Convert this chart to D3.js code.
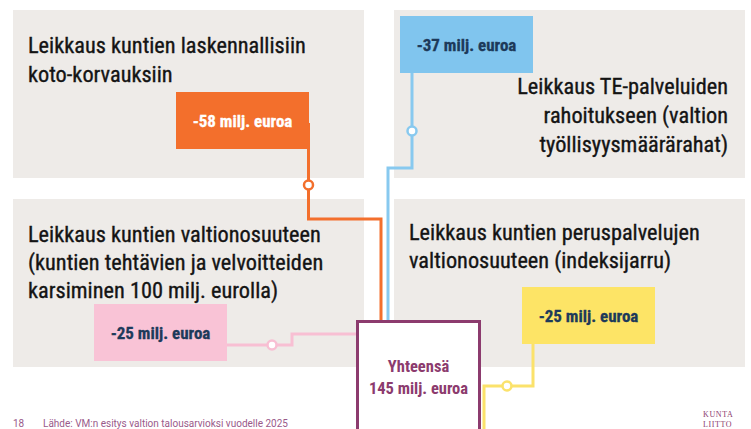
<!DOCTYPE html>
<html>
<head>
<meta charset="utf-8">
<script src="https://cdn.jsdelivr.net/npm/d3@7"></script>
<style>
  html, body { margin: 0; padding: 0; background: #fff; }
  svg { display: block; }
</style>
</head>
<body>
<div id="chart"></div>
<script>
// Leikkausten kohteet (otsikkorivit) ja summat
const titles = [
  ["Leikkaus kuntien laskennallisiin", "koto-korvauksiin"],
  ["Leikkaus TE-palveluiden", "rahoitukseen (valtion", "työllisyysmäärärahat)"],
  ["Leikkaus kuntien valtionosuuteen", "(kuntien tehtävien ja velvoitteiden", "karsiminen 100 milj. eurolla)"],
  ["Leikkaus kuntien peruspalvelujen", "valtionosuuteen (indeksijarru)"]
];
const amounts = [-58, -37, -25, -25];
const totalLabel = "Yhteensä";
const total = 145;
const unit = "milj. euroa";
const sourceText = "Lähde: VM:n esitys valtion talousarvioksi  vuodelle 2025";
const pageNo = "18";
const logoLines = ["KUNTA", "LIITTO"];

// Värit
const boxColors = ["#f36f2c", "#80c5ee", "#f9c3d6", "#fde466"];
const lineColors = ["#f36f2c", "#88c9ef", "#f8bfd3", "#fbe26b"];
const labelColors = ["#ffffff", "#1d3a5a", "#1d3a5a", "#1d3a5a"];
const purple = "#8c3b6e";
const panelFill = "#eeebe8";

const width = 751;
const height = 429;
const font = "'Roboto Condensed', 'Liberation Sans Narrow', 'DejaVu Sans Condensed', Roboto, sans-serif";

const svg = d3.select("#chart")
  .append("svg")
  .attr("width", width)
  .attr("height", height)
  .style("background", "white");

// Paneelien ruudukko
const col = d3.scaleBand().domain([0, 1]).range([13, 745]).paddingInner(30 / 381);
const row = d3.scaleBand().domain([0, 1]).range([10, 367]).paddingInner(21 / 189);

// paneelin sijainti: [sarake, rivi], otsikon tasaus ja ensimmäisen rivin y
const panels = [
  { c: 0, r: 0, anchor: "start", tx: 15, ty: 43, lh: 29 },
  { c: 1, r: 0, anchor: "end", tx: 334, ty: 84, lh: 29 },
  { c: 0, r: 1, anchor: "start", tx: 15, ty: 43, lh: 28 },
  { c: 1, r: 1, anchor: "start", tx: 15, ty: 41, lh: 28 }
];

// summalaatikoiden paikat
const boxW = 133, boxH = 57;
const boxes = [
  { x: 176, y: 92 },
  { x: 400, y: 16 },
  { x: 94, y: 304 },
  { x: 522, y: 287 }
];

// Paneelit
svg.selectAll("rect.panel")
  .data(panels)
  .enter()
  .append("rect")
  .attr("class", "panel")
  .attr("x", d => col(d.c))
  .attr("y", d => row(d.r))
  .attr("width", col.bandwidth())
  .attr("height", row.bandwidth())
  .attr("fill", panelFill);

// Otsikot
panels.forEach((p, i) => {
  const t = svg.append("text")
    .attr("x", col(p.c) + p.tx)
    .attr("y", row(p.r) + p.ty)
    .attr("text-anchor", p.anchor)
    .style("font-family", font)
    .style("font-size", "22.3px")
    .style("fill", "#141414")
    .style("stroke", "#141414")
    .style("stroke-width", 0.35);
  titles[i].forEach((line, j) => {
    t.append("tspan")
      .attr("x", col(p.c) + p.tx)
      .attr("y", row(p.r) + p.ty + j * p.lh)
      .text(line);
  });
});

// Yhteensä-laatikko
const tot = { x: 357.5, y: 321.5, w: 122 };

// Yhdysviivat (väliviivat ja ympyrät)
const connectors = [
  { pts: [[308.5, 123], [308.5, 219], [381, 219], [381, 320]], circle: [308.5, 185] },
  { pts: [[412, 73], [412, 168], [388, 168], [388, 320]], circle: [412, 131] },
  { pts: [[227, 345], [292, 345], [292, 334], [357, 334]], circle: [272, 345] },
  { pts: [[533, 343], [533, 386], [484, 386], [484, 432]], circle: [507, 386] }
];

const lineGen = d3.line().curve(d3.curveLinear);

svg.selectAll("path.connector")
  .data(connectors)
  .enter()
  .append("path")
  .attr("class", "connector")
  .attr("d", d => lineGen(d.pts))
  .attr("fill", "none")
  .attr("stroke", (d, i) => lineColors[i])
  .attr("stroke-width", 3);

// Summalaatikot
svg.selectAll("rect.amount")
  .data(amounts)
  .enter()
  .append("rect")
  .attr("class", "amount")
  .attr("x", (d, i) => boxes[i].x)
  .attr("y", (d, i) => boxes[i].y)
  .attr("width", boxW)
  .attr("height", boxH)
  .attr("fill", (d, i) => boxColors[i]);

svg.selectAll("text.amount")
  .data(amounts)
  .enter()
  .append("text")
  .attr("class", "amount")
  .attr("x", (d, i) => boxes[i].x + boxW / 2)
  .attr("y", (d, i) => boxes[i].y + boxH / 2 + 6)
  .attr("text-anchor", "middle")
  .style("font-family", font)
  .style("font-size", "17px")
  .style("font-weight", "bold")
  .style("fill", (d, i) => labelColors[i])
  .style("stroke", (d, i) => labelColors[i])
  .style("stroke-width", 0.3)
  .text(d => `${d} ${unit}`);

svg.selectAll("circle.node")
  .data(connectors)
  .enter()
  .append("circle")
  .attr("class", "node")
  .attr("cx", d => d.circle[0])
  .attr("cy", d => d.circle[1])
  .attr("r", 4.5)
  .attr("fill", "white")
  .attr("stroke", (d, i) => lineColors[i])
  .attr("stroke-width", 2.5);

// Yhteensä
svg.append("rect")
  .attr("x", tot.x)
  .attr("y", tot.y)
  .attr("width", tot.w)
  .attr("height", 140)
  .attr("fill", "white")
  .attr("stroke", purple)
  .attr("stroke-width", 3);

svg.append("text")
  .attr("x", tot.x + tot.w / 2)
  .attr("y", 372)
  .attr("text-anchor", "middle")
  .style("font-family", font)
  .style("font-size", "16.5px")
  .style("font-weight", "bold")
  .style("fill", purple)
  .text(totalLabel);

svg.append("text")
  .attr("x", tot.x + tot.w / 2)
  .attr("y", 394)
  .attr("text-anchor", "middle")
  .style("font-family", font)
  .style("font-size", "16.5px")
  .style("font-weight", "bold")
  .style("fill", purple)
  .text(`${total} ${unit}`);

// Alatunniste
svg.append("text")
  .attr("x", 13)
  .attr("y", 427)
  .style("font-family", "Roboto, sans-serif")
  .style("font-size", "10px")
  .style("fill", "#9a5a8a")
  .text(pageNo);

svg.append("text")
  .attr("x", 43)
  .attr("y", 427)
  .style("font-family", "Roboto, sans-serif")
  .style("font-size", "10px")
  .style("fill", "#9a5a8a")
  .text(sourceText);

// Logo
svg.selectAll("text.logo")
  .data(logoLines)
  .enter()
  .append("text")
  .attr("class", "logo")
  .attr("x", 703)
  .attr("y", (d, i) => 417 + i * 10)
  .style("font-family", "'Liberation Serif', serif")
  .style("font-size", "8px")
  .style("letter-spacing", "0.6px")
  .style("fill", purple)
  .text(d => d);
</script>
</body>
</html>
